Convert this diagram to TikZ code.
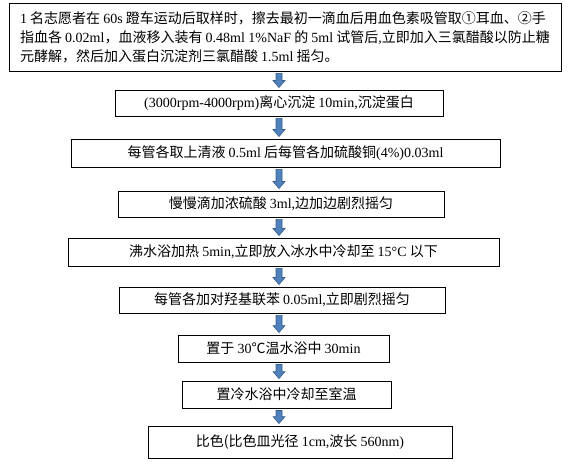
\documentclass[tikz,border=0pt]{standalone}
\usepackage{fontspec}
\setmainfont{Noto Sans CJK SC}
\newfontfamily\latinfont{Liberation Serif}
\usetikzlibrary{calc}
\definecolor{arrowfill}{HTML}{4F81BD}
\definecolor{arrowline}{HTML}{385D8A}
\newcommand{\lat}[1]{{\latinfont #1}}
% block arrow between two boxes, on the common axis
\newcommand{\flowarrow}[2]{%
  \coordinate (atop) at ($(#1.south -| axis)+(0,2)$);
  \coordinate (atip) at ($(#2.north -| axis)+(0,-2)$);
  \filldraw[blockarrow] ($(atop)+(-3,0)$) -- ($(atop)+(3,0)$) -- ($(atip)+(3,-7)$)
    -- ($(atip)+(6,-7)$) -- (atip) -- ($(atip)+(-6,-7)$) -- ($(atip)+(-3,-7)$) -- cycle;
}

\begin{document}
\begin{tikzpicture}[
    x=1pt, y=-1pt,
    every node/.style={font=\fontsize{14}{19}\selectfont},
    stepbox/.style={draw, line width=0.9pt, inner sep=0pt, align=center},
    blockarrow/.style={fill=arrowfill, draw=arrowline, line width=0.6pt},
]
\useasboundingbox (0,0) rectangle (568,465);
\coordinate (axis) at (279,0);             % x of the arrows

% --- Sampling (first box, three lines) ---
\node[stepbox, align=left, minimum width=552, minimum height=68] (sample) at (285,37)
    {\lat{1} 名志愿者在 \lat{60s} 蹬车运动后取样时，擦去最初一滴血后用血色素吸管取①耳血、②手\\
     指血各 \lat{0.02ml}，血液移入装有 \lat{0.48ml 1\%NaF} 的 \lat{5ml} 试管后\lat{,}立即加入三氯醋酸以防止糖\\
     元酵解，然后加入蛋白沉淀剂三氯醋酸 \lat{1.5ml} 摇匀。};

% --- Steps ---
\node[stepbox, minimum width=328, minimum height=26] (spin) at (279,103)
    {\lat{(3000rpm-4000rpm)}离心沉淀 \lat{10min,}沉淀蛋白};
\node[stepbox, minimum width=429, minimum height=28] (copper) at (285.5,153)
    {每管各取上清液 \lat{0.5ml} 后每管各加硫酸铜\lat{(4\%)0.03ml}};
\node[stepbox, minimum width=326, minimum height=26] (acid) at (281,204)
    {慢慢滴加浓硫酸 \lat{3ml,}边加边剧烈摇匀};
\node[stepbox, minimum width=431, minimum height=28] (boil) at (283.5,252)
    {沸水浴加热 \lat{5min,}立即放入冰水中冷却至 \lat{15°C} 以下};
\node[stepbox, minimum width=326, minimum height=26] (reagent) at (282,300)
    {每管各加对羟基联苯 \lat{0.05ml,}立即剧烈摇匀};
\node[stepbox, minimum width=211, minimum height=27] (warm) at (283.5,348.5)
    {置于 \lat{30}℃温水浴中 \lat{30min}};
\node[stepbox, minimum width=209, minimum height=27] (cool) at (286.5,394.5)
    {置冷水浴中冷却至室温};
\node[stepbox, minimum width=304, minimum height=32] (color) at (300,442)
    {比色(比色皿光径 \lat{1cm,}波长 \lat{560nm)}};

% --- Arrows ---
\foreach \a/\b in {sample/spin, spin/copper, copper/acid, acid/boil,
                   boil/reagent, reagent/warm, warm/cool, cool/color}
  {\flowarrow{\a}{\b}}
\end{tikzpicture}
\end{document}
